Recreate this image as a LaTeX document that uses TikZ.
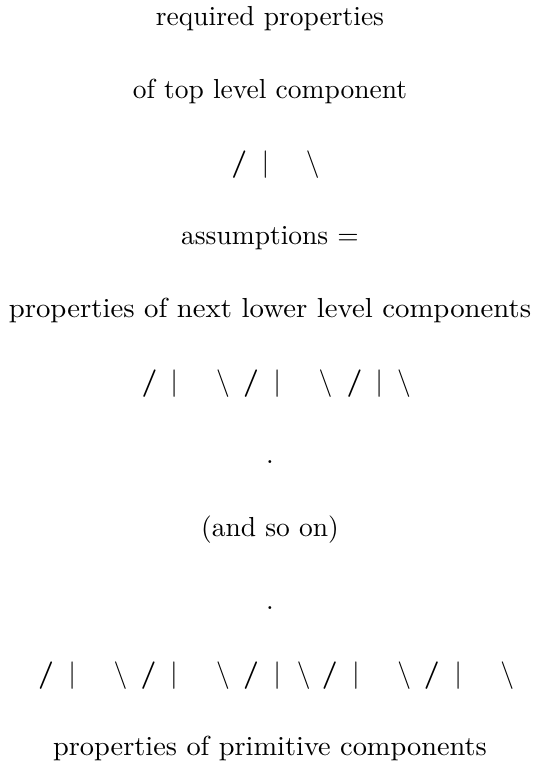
\documentclass[tikz,border=0pt]{standalone}
\begin{document}
\begin{tikzpicture}[x=0.3636pt,y=-0.3636pt,
  txt/.style={anchor=base,inner sep=0pt,outer sep=0pt,font=\fontsize{10}{12}\selectfont},
  glyph/.style={anchor=base,inner sep=0pt,outer sep=0pt,font=\fontsize{10}{12}\selectfont},
  fslash/.style={glyph,font=\fontsize{10}{12}\selectfont\bfseries}]
\useasboundingbox (0,0) rectangle (540,765);
\node[txt] (l1) at (270,25) {required properties};
\node[txt] (l2) at (270,98) {of top level component};
% row 3
\node[fslash] (a1) at (239.3,171) {/};
\node[glyph] (a2) at (265.5,171) {$|$};
\node[glyph] (a3) at (312.8,171) {$\backslash$};
\node[txt] (l4) at (270,244) {assumptions $=$};
\node[txt] (l5) at (270,317) {\scalebox{1.046}[1]{properties of next lower level components}};
% row 6
\node[fslash] (b1) at (149.5,390) {/};
\node[glyph] (b2) at (174.3,390) {$|$};
\node[glyph] (b3) at (223,390) {$\backslash$};
\node[fslash] (b4) at (251,390) {/};
\node[glyph] (b5) at (277.3,390) {$|$};
\node[glyph] (b6) at (325.5,390) {$\backslash$};
\node[fslash] (b7) at (354.5,390) {/};
\node[glyph] (b8) at (379.3,390) {$|$};
\node[glyph] (b9) at (404,390) {$\backslash$};
\node[txt] (l7) at (270,463) {.};
\node[txt] (l8) at (270,536) {(and so on)};
\node[txt] (l9) at (270,609) {.};
% row 10
\node[fslash] (c1) at (46,682) {/};
\node[glyph] (c2) at (72.3,682) {$|$};
\node[glyph] (c3) at (120.5,682) {$\backslash$};
\node[fslash] (c4) at (148.5,682) {/};
\node[glyph] (c5) at (174,682) {$|$};
\node[glyph] (c6) at (223,682) {$\backslash$};
\node[fslash] (c7) at (251,682) {/};
\node[glyph] (c8) at (277.3,682) {$|$};
\node[glyph] (c9) at (303.7,682) {$\backslash$};
\node[fslash] (c10) at (329.7,682) {/};
\node[glyph] (c11) at (356,682) {$|$};
\node[glyph] (c12) at (404.2,682) {$\backslash$};
\node[fslash] (c13) at (431.7,682) {/};
\node[glyph] (c14) at (458.3,682) {$|$};
\node[glyph] (c15) at (507.2,682) {$\backslash$};
\node[txt] (l11) at (270,755) {\scalebox{1.031}[1]{properties of primitive components}};
\end{tikzpicture}
\end{document}
